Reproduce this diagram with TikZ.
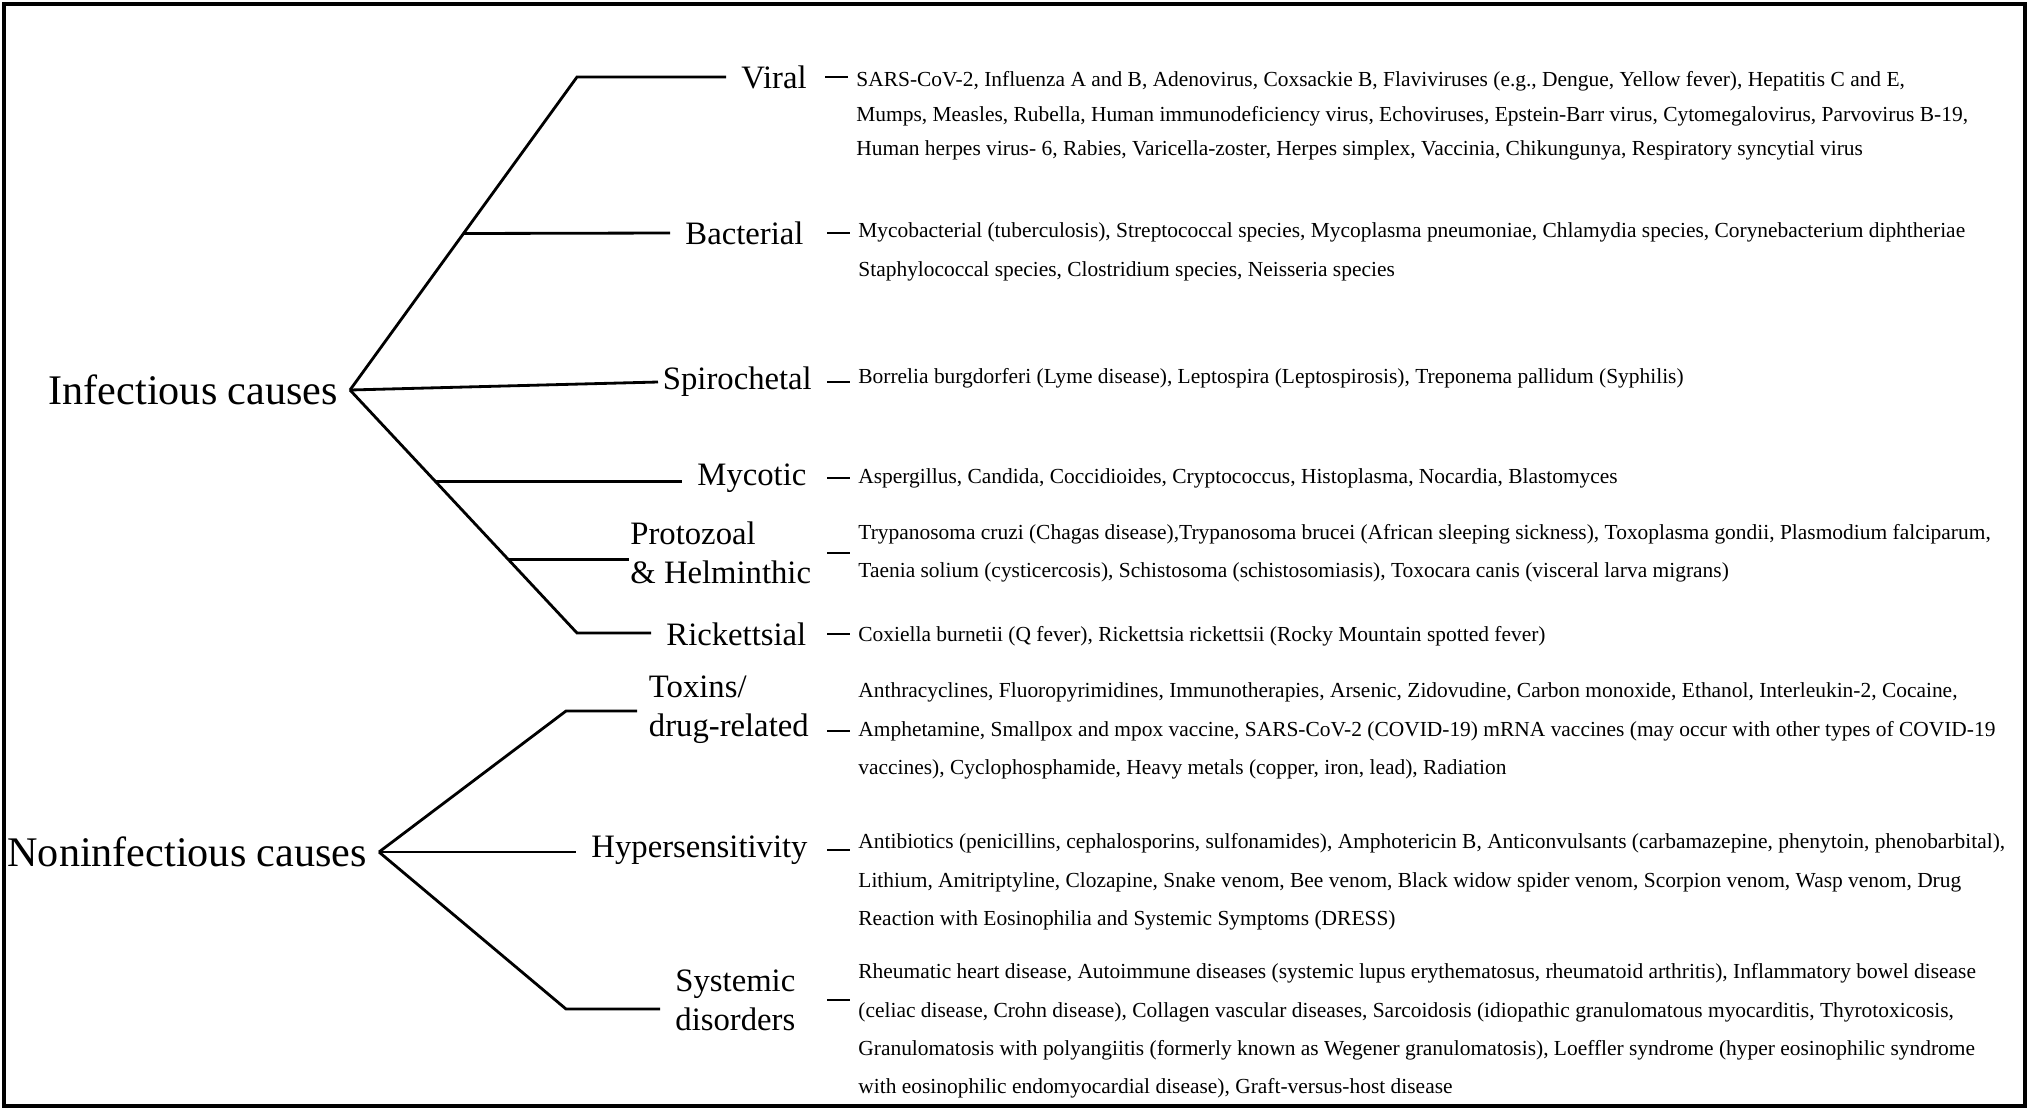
\documentclass[tikz,border=0pt]{standalone}
\usepackage{fontspec}
\setmainfont{Liberation Serif}
\usetikzlibrary{calc}

\begin{document}
\begin{tikzpicture}[x=0.1mm, y=-0.1mm, thick,
    cause node/.style={inner xsep=3pt, inner ysep=0pt, anchor=east, font=\fontsize{12}{14}\selectfont},
    group node/.style={inner xsep=4pt, inner ysep=0pt, anchor=west, align=left, font=\fontsize{9.3}{11}\selectfont},
    list node/.style={inner sep=0pt, anchor=west, align=left, font=\fontsize{6.1}{10.9}\selectfont},
    branch/.style={line width=0.8pt},
    dash line/.style={line width=0.8pt}]
\useasboundingbox (0,0) rectangle (2030,1110);
\draw[line width=1.3pt] (4,4) rectangle (2025,1106);

\node[cause node] (inf) at (350,390) {Infectious causes};
\node[cause node] (noninf) at (379,852) {Noninfectious causes};

\coordinate (viral top) at (577,77);
\coordinate (rick bottom) at (577,633);
\coordinate (tox top) at (566,711);
\coordinate (sys bottom) at (566,1009);

\node[group node] (viral) at (726,77) {Viral};
\node[group node] (bact) at (670,233) {Bacterial};
\node[group node, inner xsep=1pt] (spiro) at (658,382) {Spirochetal};
\node[group node] (myco) at (682,478) {Mycotic};
\node[group node, inner xsep=0pt] (proto) at (629,553) {Protozoal\\\& Helminthic};
\node[group node] (rick) at (651,634) {Rickettsial};
\node[group node, inner xsep=3pt] (tox) at (637,710) {Toxins/\\drug-related};
\node[group node] (hyper) at (576,850) {Hypersensitivity};
\node[group node] (sys) at (660,1000) {Systemic\\disorders};

\node[list node, font=\fontsize{6.1}{9.8}\selectfont] (viralL) at (855,116) {SARS-CoV-2, Influenza A and B, Adenovirus, Coxsackie B, Flaviviruses (e.g., Dengue, Yellow fever), Hepatitis C and E,\\Mumps, Measles, Rubella, Human immunodeficiency virus, Echoviruses, Epstein-Barr virus, Cytomegalovirus, Parvovirus B-19,\\Human herpes virus- 6, Rabies, Varicella-zoster, Herpes simplex, Vaccinia, Chikungunya, Respiratory syncytial virus};
\node[list node] (bactL) at (857,252) {Mycobacterial (tuberculosis), Streptococcal species, Mycoplasma pneumoniae, Chlamydia species, Corynebacterium diphtheriae\\Staphylococcal species, Clostridium species, Neisseria species};
\node[list node] (spiroL) at (857,378) {Borrelia burgdorferi (Lyme disease), Leptospira (Leptospirosis), Treponema pallidum (Syphilis)};
\node[list node] (mycoL) at (857,478) {Aspergillus, Candida, Coccidioides, Cryptococcus, Histoplasma, Nocardia, Blastomyces};
\node[list node] (protoL) at (857,553) {Trypanosoma cruzi (Chagas disease),Trypanosoma brucei (African sleeping sickness), Toxoplasma gondii, Plasmodium falciparum,\\Taenia solium (cysticercosis), Schistosoma (schistosomiasis), Toxocara canis (visceral larva migrans)};
\node[list node] (rickL) at (857,636) {Coxiella burnetii (Q fever), Rickettsia rickettsii (Rocky Mountain spotted fever)};
\node[list node] (toxL) at (857,731) {Anthracyclines, Fluoropyrimidines, Immunotherapies, Arsenic, Zidovudine, Carbon monoxide, Ethanol, Interleukin-2, Cocaine,\\Amphetamine, Smallpox and mpox vaccine, SARS-CoV-2 (COVID-19) mRNA vaccines (may occur with other types of COVID-19\\vaccines), Cyclophosphamide, Heavy metals (copper, iron, lead), Radiation};
\node[list node] (hyperL) at (857,882) {Antibiotics (penicillins, cephalosporins, sulfonamides), Amphotericin B, Anticonvulsants (carbamazepine, phenytoin, phenobarbital),\\Lithium, Amitriptyline, Clozapine, Snake venom, Bee venom, Black widow spider venom, Scorpion venom, Wasp venom, Drug\\Reaction with Eosinophilia and Systemic Symptoms (DRESS)};
\node[list node] (sysL) at (857,1031) {Rheumatic heart disease, Autoimmune diseases (systemic lupus erythematosus, rheumatoid arthritis), Inflammatory bowel disease\\(celiac disease, Crohn disease), Collagen vascular diseases, Sarcoidosis (idiopathic granulomatous myocarditis, Thyrotoxicosis,\\Granulomatosis with polyangiitis (formerly known as Wegener granulomatosis), Loeffler syndrome (hyper eosinophilic syndrome\\with eosinophilic endomyocardial disease), Graft-versus-host disease};

\draw[branch] (inf.east) -- (viral top) -- (viral top -| viral.west);
\draw[branch] ($(inf.east)!0.5!(viral top)$) -- (bact.west);
\draw[branch] (inf.east) -- (spiro.west);
\draw[branch] ($(inf.east)!0.378!(rick bottom)$) coordinate (myco fork) -- (myco fork -| myco.west);
\draw[branch] ($(inf.east)!0.696!(rick bottom)$) coordinate (proto fork) -- (proto fork -| proto.west);
\draw[branch] (inf.east) -- (rick bottom) -- (rick bottom -| rick.west);

\draw[branch] (noninf.east) -- (tox top) -- (tox top -| tox.west);
\draw[branch] (noninf.east) -- (noninf.east -| hyper.west);
\draw[branch] (noninf.east) -- (sys bottom) -- (sys bottom -| sys.west);

\foreach \a/\b in {viral/viralL, bact/bactL, spiro/spiroL, myco/mycoL, proto/protoL, rick/rickL, toxL/toxL, hyper/hyperL, sys/sysL}
    \draw[dash line] ($(\a.east -| \b.west)+(-30,0)$) -- ($(\a.east -| \b.west)+(-7,0)$);
\end{tikzpicture}
\end{document}
